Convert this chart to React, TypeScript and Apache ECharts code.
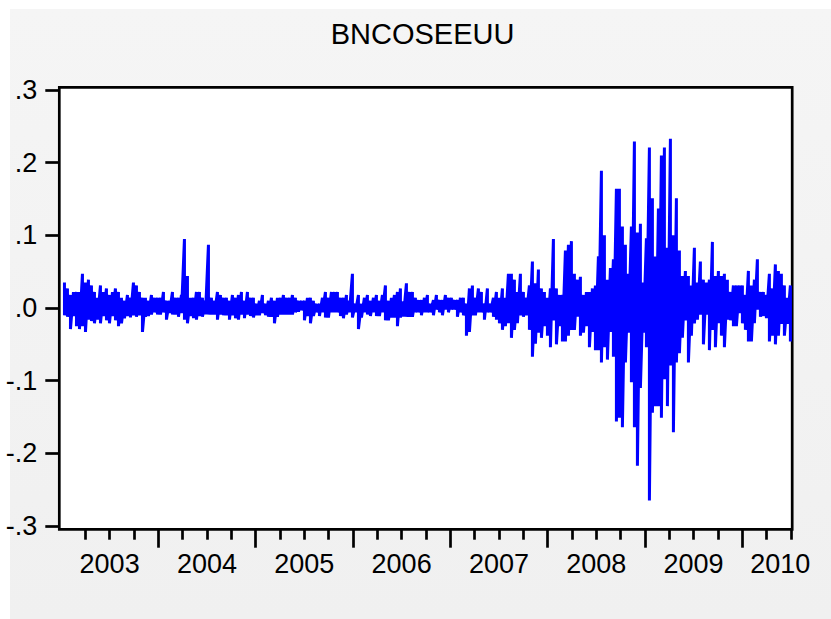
import React, { useEffect, useRef } from "react";
import * as echarts from "echarts";

// Series: per plotted column (≈11 trading days each), highest and lowest daily value, in thousandths
const highs = [
  35, 27, 18, 22, 22, 22, 47, 35, 39, 31,
  22, 14, 31, 22, 27, 18, 22, 27, 22, 14,
  10, 18, 14, 35, 31, 22, 14, 14, 10, 18,
  14, 14, 14, 22, 10, 10, 22, 14, 14, 18,
  95, 44, 14, 14, 22, 22, 14, 10, 87, 14,
  10, 22, 18, 14, 14, 10, 18, 14, 18, 22,
  10, 22, 14, 14, 6, 10, 18, 6, 10, 14,
  10, 14, 14, 18, 14, 14, 18, 14, 10, 10,
  10, 14, 14, 10, 6, 6, 14, 22, 14, 22,
  22, 22, 14, 14, 18, 10, 47, 6, 18, 6,
  14, 18, 10, 14, 18, 10, 18, 31, 10, 14,
  18, 22, 27, 9, 34, 22, 22, 14, 11, 11,
  14, 18, 6, 11, 18, 11, 11, 18, 14, 14,
  11, 11, 14, 14, 6, 27, 31, 14, 27, 22,
  6, 27, 6, 14, 22, 14, 27, 14, 47, 47,
  39, 22, 47, 22, 14, 31, 64, 34, 53, 27,
  22, 14, 27, 95, 27, 18, 18, 79, 87, 92,
  47, 39, 43, 18, 22, 22, 27, 31, 71, 189,
  100, 39, 55, 67, 164, 164, 112, 87, 47, 112,
  229, 104, 116, 35, 96, 221, 151, 71, 137, 210,
  221, 83, 233, 100, 151, 79, 44, 51, 44, 31,
  83, 35, 64, 39, 35, 39, 91, 44, 51, 44,
  47, 39, 22, 31, 31, 31, 31, 18, 51, 31,
  39, 67, 22, 22, 18, 47, 27, 60, 51, 47,
  31, 14, 31,
];
const lows = [
  -10, -12, -29, -11, -25, -29, -25, -33, -16, -18,
  -21, -16, -21, -11, -17, -21, -11, -17, -25, -21,
  -14, -11, -13, -10, -12, -10, -33, -12, -11, -9,
  -6, -9, -9, -6, -16, -7, -9, -9, -12, -7,
  -16, -21, -11, -14, -16, -11, -12, -9, -9, -9,
  -9, -16, -9, -10, -10, -16, -10, -14, -16, -9,
  -14, -9, -11, -13, -10, -10, -7, -10, -12, -12,
  -21, -12, -9, -9, -9, -9, -9, -6, -5, -3,
  -17, -11, -21, -11, -6, -11, -6, -13, -13, -6,
  -6, -6, -11, -14, -9, -6, -13, -6, -29, -13,
  -6, -9, -11, -6, -11, -11, -6, -17, -17, -13,
  -13, -25, -13, -12, -12, -12, -12, -6, -6, -10,
  -6, -6, -6, -10, -2, -6, -10, -2, -6, -2,
  -2, -12, -6, -10, -38, -33, -10, -10, -6, -6,
  -16, -6, -6, -12, -16, -21, -30, -25, -21, -41,
  -30, -21, -10, -12, -10, -30, -67, -49, -34, -41,
  -25, -38, -54, -17, -50, -25, -46, -46, -38, -30,
  -30, -12, -38, -34, -25, -54, -33, -58, -58, -75,
  -54, -71, -33, -67, -156, -151, -164, -75, -34, -102,
  -164, -217, -110, -34, -54, -265, -144, -135, -135, -151,
  -98, -135, -79, -171, -75, -62, -41, -17, -75, -38,
  -21, -16, -9, -50, -9, -58, -30, -54, -21, -38,
  -54, -16, -17, -25, -25, -7, -21, -30, -46, -46,
  -21, -2, -12, -11, -14, -46, -38, -50, -38, -22,
  -38, -22, -46,
];
// time of the first column (decimal year) and the time covered by one column
const firstObs = 2003.036;
const obsStep = 0.03082;

const quarterTicks = [
  2003.25, 2003.5, 2003.75, 2004.25, 2004.5, 2004.75, 2005.25, 2005.5, 2005.75,
  2006.25, 2006.5, 2006.75, 2007.25, 2007.5, 2007.75, 2008.25, 2008.5, 2008.75,
  2009.25, 2009.5, 2009.75, 2010.25, 2010.5,
];
const yearTicks = [2004, 2005, 2006, 2007, 2008, 2009, 2010];
const yearLabelPos = [2003.5, 2004.5, 2005.5, 2006.5, 2007.5, 2008.5, 2009.5, 2010.39];
const yearLabels = ["2003", "2004", "2005", "2006", "2007", "2008", "2009", "2010"];
const yTicks = [-0.3, -0.2, -0.1, 0, 0.1, 0.2, 0.3];
const yLabels = ["-.3", "-.2", "-.1", ".0", ".1", ".2", ".3"];
const title = "BNCOSEEUU";

const labelFont = "'Liberation Sans', Arial, sans-serif";
const X_MIN = 2002.983;
const X_MAX = 2010.513;

export default function App() {
  const ref = useRef<HTMLDivElement>(null);
  useEffect(() => {
    if (!ref.current) return;
    const chart = echarts.init(ref.current, null, { renderer: "svg" });
    const data: [number, number][] = [];
    highs.forEach((h, i) => {
      const x = firstObs + i * obsStep;
      data.push([x, h / 1000]);
      data.push([x, lows[i] / 1000]);
    });
    const nearest = (arr: number[], v: number) => {
      let best = 0;
      arr.forEach((a, i) => {
        if (Math.abs(a - v) < Math.abs(arr[best] - v)) best = i;
      });
      return best;
    };
    const tickStyle = { color: "#000", width: 2.7 };
    const baseX = {
      type: "value",
      min: X_MIN,
      max: X_MAX,
      position: "bottom",
      axisLine: { show: false },
      splitLine: { show: false },
    };
    chart.setOption({
      animation: false,
      graphic: [
        {
          type: "text",
          x: 422.5,
          y: 34,
          style: {
            text: title,
            fill: "#000",
            font: "29px 'Liberation Sans', Arial, sans-serif",
            textAlign: "center",
            textVerticalAlign: "middle",
          },
        },
      ],
      grid: {
        left: 59.3,
        right: 38.8,
        top: 87.3,
        bottom: 89.7,
        show: true,
        backgroundColor: "#fff",
        borderColor: "#000",
        borderWidth: 2.7,
        outerBoundsMode: "none",
      },
      xAxis: [
        {
          ...baseX,
          axisTick: { show: false },
          axisLabel: {
            show: true,
            customValues: yearLabelPos,
            formatter: (v: number) => yearLabels[nearest(yearLabelPos, v)],
            margin: 21,
            color: "#000",
            fontSize: 27,
            fontFamily: labelFont,
          },
        },
        {
          ...baseX,
          axisTick: { show: true, customValues: yearTicks, length: 18.4, lineStyle: tickStyle },
          axisLabel: { show: false },
        },
        {
          ...baseX,
          axisTick: { show: true, customValues: quarterTicks, length: 10.4, lineStyle: tickStyle },
          axisLabel: { show: false },
        },
      ],
      yAxis: {
        type: "value",
        min: -0.3045,
        max: 0.3037,
        axisLine: { show: false },
        splitLine: { show: false },
        axisTick: { show: true, customValues: yTicks, length: 14, lineStyle: tickStyle },
        axisLabel: {
          customValues: yTicks,
          formatter: (v: number) => yLabels[nearest(yTicks, v)],
          margin: 22,
          color: "#000",
          fontSize: 27,
          fontFamily: labelFont,
          padding: [0, 0, 6, 0],
        },
      },
      series: [
        {
          type: "line",
          xAxisIndex: 0,
          data,
          symbol: "none",
          showSymbol: false,
          silent: true,
          lineStyle: { color: "#0000ff", width: 3, join: "bevel", cap: "butt" },
        },
      ],
    });
    return () => chart.dispose();
  }, []);
  return (
    <div style={{ position: "fixed", left: 0, top: 0, width: 831, height: 619, background: "#fff" }}>
      <div
        style={{
          position: "absolute",
          left: 10,
          top: 9,
          width: 821,
          height: 610,
          background: "linear-gradient(#f5f5f5, #f0f0f0)",
        }}
      />
      <div ref={ref} style={{ position: "absolute", left: 0, top: 0, width: 831, height: 619 }} />
    </div>
  );
}
